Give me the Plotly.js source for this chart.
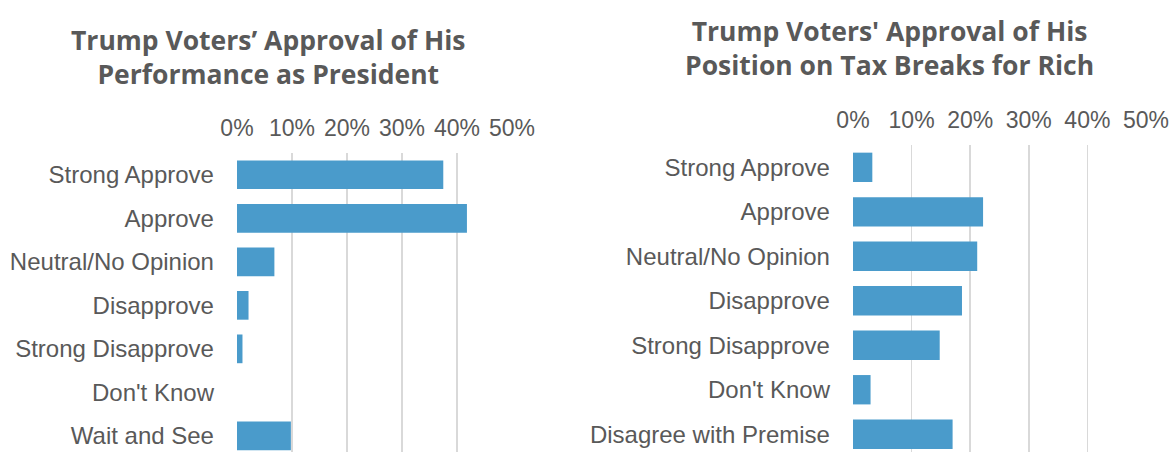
<!DOCTYPE html>
<html><head><meta charset="utf-8">
<script src="https://cdn.plot.ly/plotly-3.0.1.min.js"></script>
<style>html,body{margin:0;padding:0;background:#fff;}#chart{width:1172px;height:452px;}</style>
</head><body><div id="chart"></div>
<script>
const leftTitle = "Trump Voters’ Approval of His<br>Performance as President";
const rightTitle = "Trump Voters' Approval of His<br>Position on Tax Breaks for Rich";
const leftCategories = ["Strong Approve","Approve","Neutral/No Opinion","Disapprove","Strong Disapprove","Don't Know","Wait and See"];
const leftValues = [37.5, 41.8, 6.8, 2.1, 1.0, 0, 9.8];
const rightCategories = ["Strong Approve","Approve","Neutral/No Opinion","Disapprove","Strong Disapprove","Don't Know","Disagree with Premise"];
const rightValues = [3.3, 22.2, 21.2, 18.6, 14.8, 3.0, 17.0];
const tickVals = [0,10,20,30,40,50];
const tickText = ["0%","10%","20%","30%","40%","50%"];

const barColor = '#4A9BCB';
const textColor = '#595959';
const catFont = {family:'Arial', size:24, color:textColor};
const tickFont = {family:'Arial', size:23, color:textColor};

const traces = [
  {type:'bar', orientation:'h', x:leftValues, y:leftCategories, xaxis:'x', yaxis:'y',
   marker:{color:barColor, line:{width:0}}, width:0.66, hoverinfo:'x+y'},
  {type:'bar', orientation:'h', x:rightValues, y:rightCategories, xaxis:'x2', yaxis:'y2',
   marker:{color:barColor, line:{width:0}}, width:0.66, hoverinfo:'x+y'}
];

const xBase = {range:[0,50], tickvals:tickVals, ticktext:tickText, side:'top', showgrid:true,
  gridcolor:'#d9d9d9', gridwidth:1.5, zeroline:false, showline:false, ticks:'', tickfont:tickFont,
  ticklabelstandoff:11, fixedrange:true};
const yBase = {type:'category', showgrid:false, zeroline:false, showline:false, ticks:'',
  tickfont:catFont, ticklabelstandoff:22, fixedrange:true};

const layout = {
  width:1172, height:452, margin:{l:0,r:0,t:0,b:0}, showlegend:false,
  paper_bgcolor:'#fff', plot_bgcolor:'#fff',
  xaxis: Object.assign({}, xBase, {domain:[0.2022,0.4369], anchor:'y'}),
  yaxis: Object.assign({}, yBase, {domain:[0,0.6615], range:[6.37,-0.5], anchor:'x'}),
  xaxis2: Object.assign({}, xBase, {domain:[0.7278,0.9778], anchor:'y2'}),
  yaxis2: Object.assign({}, yBase, {domain:[0,0.679], range:[6.4,-0.5], anchor:'x2'}),
  annotations:[
    {text:leftTitle, xref:'paper', yref:'paper', x:0.229, y:1-57/452, xanchor:'center', yanchor:'middle',
     showarrow:false, font:{family:'"Open Sans", sans-serif', size:26.5, color:textColor, weight:'bold'}},
    {text:rightTitle, xref:'paper', yref:'paper', x:0.759, y:1-48/452, xanchor:'center', yanchor:'middle',
     showarrow:false, font:{family:'"Open Sans", sans-serif', size:26.5, color:textColor, weight:'bold'}}
  ]
};
Plotly.newPlot('chart', traces, layout, {displayModeBar:false, staticPlot:true});
</script></body></html>
